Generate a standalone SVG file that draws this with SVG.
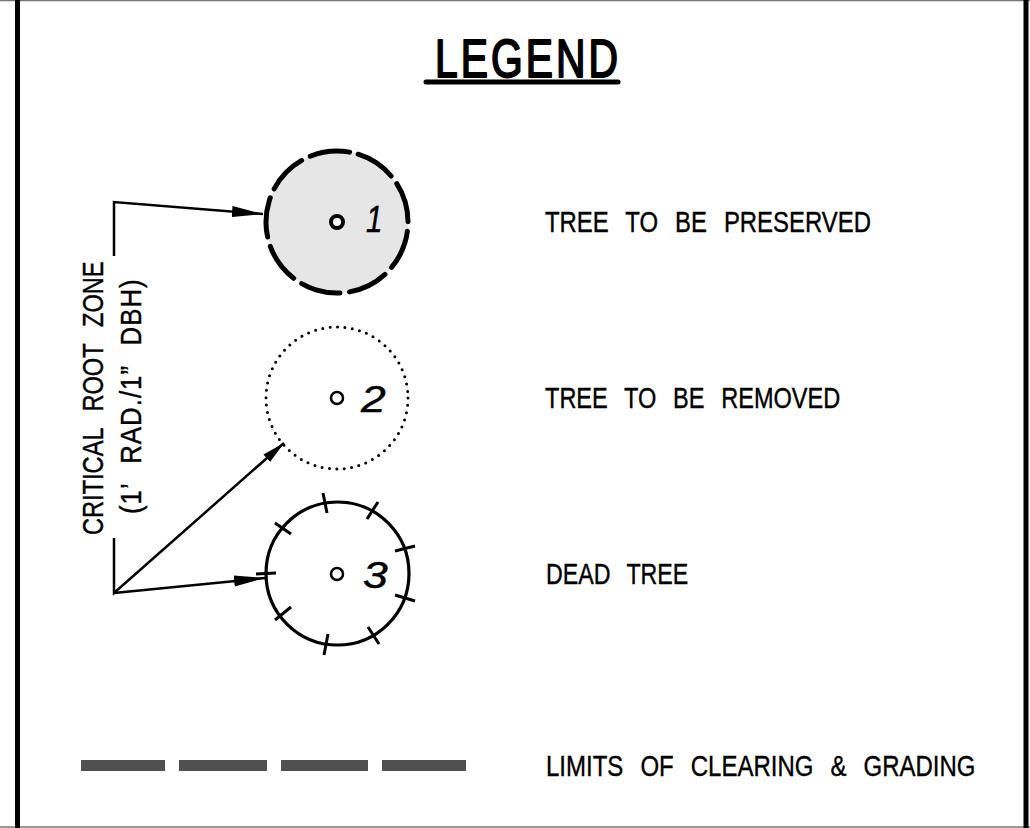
<svg xmlns="http://www.w3.org/2000/svg" width="1030" height="828" viewBox="0 0 1030 828">
<style>
text{font-family:"Liberation Sans",Arial,sans-serif;fill:#000}
.lbl{font-size:30px;word-spacing:13px;stroke:#000;stroke-width:.4px}
.num{font-size:37px;font-style:italic;stroke:#000;stroke-width:.5px}
.ln{fill:none;stroke:#000;stroke-width:2.500px}
.tick{stroke:#000;stroke-width:3px;fill:none}
.dot{fill:#fff;stroke:#000}
</style>
<defs>
<marker id="ah" markerUnits="userSpaceOnUse" markerWidth="32" markerHeight="14" refX="31" refY="7" orient="auto"><path d="M0 1.500L31 7L0 12.500Z" fill="#000"/></marker>
<marker id="ahs" markerUnits="userSpaceOnUse" markerWidth="24" markerHeight="12" refX="23" refY="6" orient="auto"><path d="M0 1L23 6L0 11Z" fill="#000"/></marker>
</defs>
<rect width="1030" height="828" fill="#fff"/>
<path d="M0 827H1030M0 .5H1030" fill="none" stroke="#777" stroke-width="1.500"/>
<rect x="15" y="0" width="5" height="828" fill="#000"/>
<rect x="1023.500" y="0" width="5" height="828" fill="#000"/>
<g id="title"><text transform="translate(435 77) scale(.756 1)" font-size="54" letter-spacing="4" stroke="#000" stroke-width="2" stroke-linejoin="round">LEGEND</text><path d="M426 82H618" stroke="#000" stroke-width="5" stroke-linecap="round"/></g>
<g id="connectors">
<path class="ln" d="M114 256V202L263 214" marker-end="url(#ah)"/>
<path class="ln" d="M114 538V593L284 443" marker-end="url(#ahs)"/>
<path class="ln" d="M114 593L265 578" marker-end="url(#ah)"/>
</g>
<g id="crz-label">
<text class="lbl" transform="translate(103 535) rotate(-90) scale(.787 1)">CRITICAL ROOT ZONE</text>
<text class="lbl" letter-spacing="1.200" transform="translate(141 514) rotate(-90) scale(.86 1)">(1’ RAD./1” DBH)</text>
</g>
<g id="tree1">
<circle cx="337" cy="222" r="71" fill="#e6e6e6"/>
<circle cx="337" cy="222" r="71" fill="none" stroke="#000" stroke-width="5" stroke-linecap="round" stroke-dasharray="40 9.570" transform="rotate(-72.700 337 222)"/>
<circle class="dot" cx="337" cy="222" r="6" stroke-width="4"/>
<text class="num" transform="translate(366 232) scale(.8 1)">1</text>
</g>
<g id="tree2">
<circle cx="337" cy="398" r="71" fill="none" stroke="#000" stroke-width="3" stroke-linecap="round" stroke-dasharray="0 7.435"/>
<circle class="dot" cx="337" cy="398" r="6" stroke-width="2.500"/>
<text class="num" transform="translate(361 412) scale(1.200 1)">2</text>
</g>
<g id="tree3">
<circle cx="337.500" cy="573.500" r="71.500" fill="none" stroke="#000" stroke-width="3.200"/>
<circle class="dot" cx="337" cy="574" r="6" stroke-width="2.500"/>
<text class="num" transform="translate(363 588) scale(1.200 1)">3</text>
<path class="tick" d="M323 493L327 513M378 502L367 519M415 546L395 551M415 601L395 595M379 644L368 627M324 655L328 634M275 620L291 607M256 574L276 573M275 523L291 534"/>
</g>
<g id="legend-labels">
<text class="lbl" transform="translate(545 232) scale(.797 1)">TREE TO BE PRESERVED</text>
<text class="lbl" transform="translate(545 408) scale(.785 1)">TREE TO BE REMOVED</text>
<text class="lbl" transform="translate(546 584) scale(.773 1)">DEAD TREE</text>
<text class="lbl" transform="translate(546 776) scale(.8 1)">LIMITS OF CLEARING &amp; GRADING</text>
</g>
<g id="limits-line" fill="#505050">
<rect x="81" y="760" width="84" height="11"/>
<rect x="179" y="760" width="88" height="11"/>
<rect x="281" y="760" width="87" height="11"/>
<rect x="382" y="760" width="84" height="11"/>
</g>
</svg>
